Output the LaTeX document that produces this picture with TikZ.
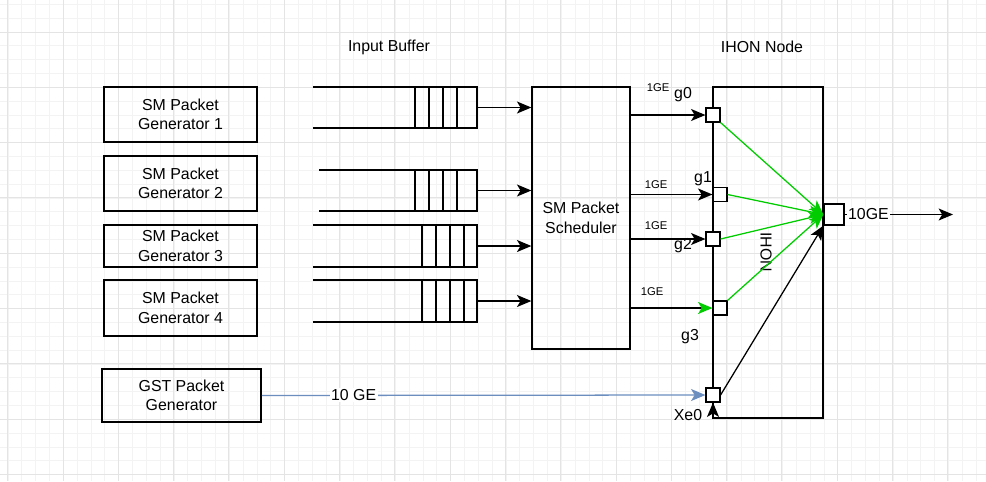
\documentclass[tikz,border=0pt]{standalone}
\usepackage{fontspec}
\setmainfont{Liberation Sans}
\usetikzlibrary{arrows.meta}
\definecolor{gridmajor}{RGB}{228,228,228}
\definecolor{gridminor}{RGB}{243,243,243}
\definecolor{linkgreen}{RGB}{0,204,0}
\definecolor{linkblue}{RGB}{108,142,191}

\begin{document}
\begin{tikzpicture}[
    x=0.025cm, y=-0.025cm,
    >=Stealth,
    every node/.style={font=\fontsize{11.3}{13.8}\selectfont},
    genbox/.style={
        draw,
        line width=0.9pt,
        align=center,
        inner sep=0pt,
        minimum width=3.83cm
    },
    portbox/.style={
        draw,
        line width=0.8pt,
        fill=white,
        inner sep=0pt,
        minimum size=0.35cm
    },
    arr/.style={-{Stealth[length=3.6mm, width=3.0mm, inset=0.9mm]}, line width=0.9pt},
    greenarr/.style={arr, linkgreen},
    queueline/.style={line width=1.4pt},
    ratelabel/.style={font=\fontsize{8}{9}\selectfont}
]
    \useasboundingbox (0,0) rectangle (986,481);

    % Background grid
    \begin{scope}
        \clip (0,0) rectangle (986,481);
        \foreach \i in {0,...,72}
            \draw[gridminor, line width=0.5pt] (8+\i*13.83,0) -- (8+\i*13.83,481);
        \foreach \i in {0,...,35}
            \draw[gridminor, line width=0.5pt] (0,4.3+\i*13.83) -- (986,4.3+\i*13.83);
        \foreach \i in {-1,...,17}
            \draw[gridmajor, line width=0.6pt] (63+\i*55.3,0) -- (63+\i*55.3,481);
        \foreach \i in {0,...,8}
            \draw[gridmajor, line width=0.6pt] (0,32+\i*55.3) -- (986,32+\i*55.3);
    \end{scope}

    % Headers
    \node (bufhead) at (389,47) {Input Buffer};
    \node (ihonhead) at (762,47) {IHON Node};

    % Generators
    \node[genbox, minimum height=1.375cm] (gen1) at (180.5,114.5)
        {SM Packet\\ Generator 1};
    \node[genbox, minimum height=1.375cm] (gen2) at (180.5,183.5)
        {SM Packet\\ Generator 2};
    \node[genbox, minimum height=1.05cm] (gen3) at (180.5,246)
        {SM Packet\\ Generator 3};
    \node[genbox, minimum height=1.4cm] (gen4) at (180.5,308)
        {SM Packet\\ Generator 4};
    \node[genbox, minimum width=3.98cm, minimum height=1.33cm] (gst) at (181.5,395.5)
        {GST Packet\\ Generator};

    % Input buffer queues
    \foreach \top/\bot/\left/\cell [count=\q] in
        {87/128/313/415, 170/211/319/415, 225/267/313/422, 280/322/313/422} {
        \draw[queueline] (\left,\top) -- (477,\top) -- (477,\bot) -- (\left,\bot);
        \foreach \c in {0,14,28,42}
            \draw[queueline] (\cell+\c,\top) -- (\cell+\c,\bot);
        \coordinate (q\q) at (477,{(\top+\bot)/2});
    }

    % Scheduler
    \node[genbox, minimum width=2.45cm, minimum height=6.55cm] (sched) at (581,218)
        {SM Packet\\ Scheduler};

    \draw[arr] (q1) -- (q1 -| sched.west);
    \draw[arr] (q2) -- (q2 -| sched.west);
    \draw[arr] (q3) -- (q3 -| sched.west);
    \draw[arr] (q4) -- (q4 -| sched.west);

    % IHON node and ports
    \node[draw, line width=0.9pt, minimum width=2.75cm, minimum height=8.275cm]
        (ihon) at (768,252.5) {};
    \node[rotate=-90] (ihontext) at (766,252) {IHON};

    \node[portbox] (p0) at (713,115) {};
    \node[portbox] (p1) at (720,194.5) {};
    \node[portbox] (p2) at (713,239) {};
    \node[portbox] (p3) at (720,308) {};
    \node[portbox] (pxe) at (713,395) {};
    \node[portbox, minimum width=0.5cm, minimum height=0.525cm] (pout) at (834,214.5) {};

    % Scheduler to ports
    \draw[arr] (sched.east |- p0.west) -- (p0.west);
    \draw[arr] (sched.east |- p1.west) -- (p1.west);
    \draw[arr] (sched.east |- p2.west) -- (p2.west);
    \draw[line width=0.9pt, -{Stealth[length=3.6mm, width=3.0mm, inset=0.9mm, linkgreen]}]
        (sched.east |- p3.west) -- (p3.west);

    \node[ratelabel] (r0) at (658,88) {1GE};
    \node[ratelabel] (r1) at (656,185) {1GE};
    \node[ratelabel] (r2) at (656,226) {1GE};
    \node[ratelabel] (r3) at (652,292) {1GE};
    \node (g0) at (683,95) {g0};
    \node (g1) at (703,179) {g1};
    \node (g2) at (683,246) {g2};
    \node (g3) at (690,337) {g3};
    \node (xe0) at (688,415) {Xe0};

    % Ports to output
    \draw[greenarr] (p0.south east) -- (pout.west);
    \draw[greenarr] (p1.east) -- (pout.west);
    \draw[greenarr] (p2.east) -- (pout.west);
    \draw[greenarr] (p3.north east) -- (pout.west);
    \draw[arr] (pxe.east) -- (pout.south west);

    % GST link
    \draw[arr, linkblue] (gst.east) -- node[pos=0.207, fill=white, text=black,
        inner sep=1pt] (gstrate) {10 GE} (pxe.west);
    \coordinate (xebot) at (pxe.south |- ihon.south);
    \draw[arr] (xebot) -- (pxe.south);

    % Output
    \coordinate (outend) at (953,214.5);
    \draw[arr] (pout.east) -- node[pos=0.22, fill=white, inner sep=1pt] (outrate) {10GE} (outend);

\end{tikzpicture}
\end{document}
